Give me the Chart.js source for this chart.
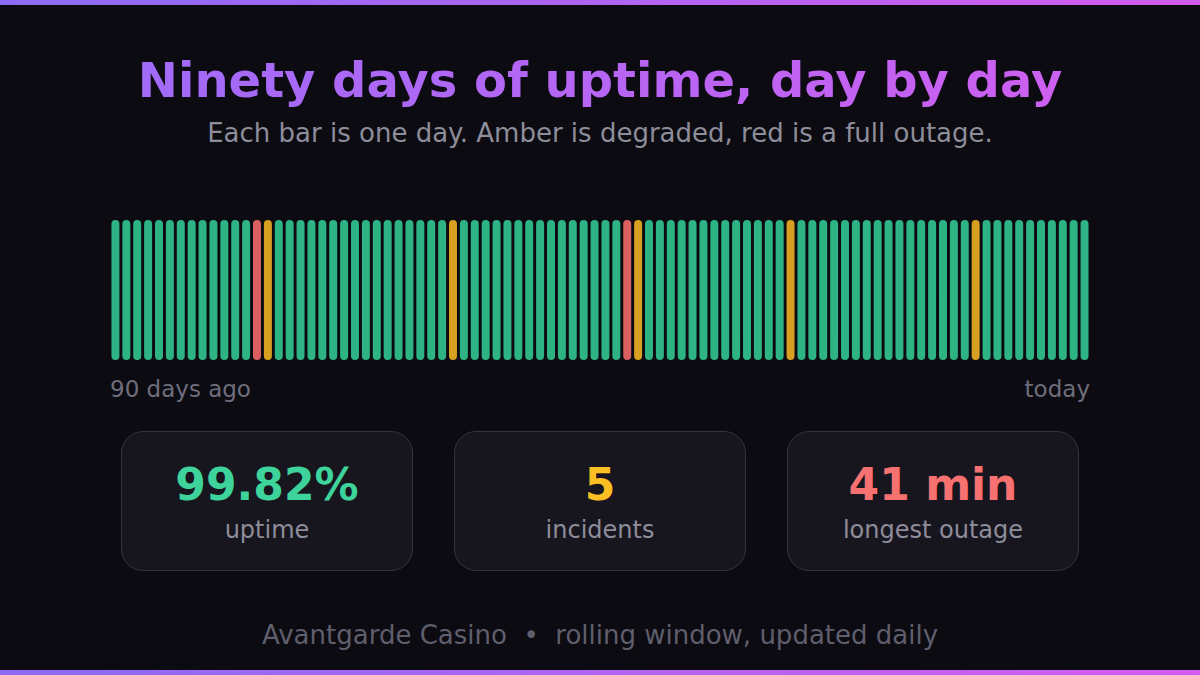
<!DOCTYPE html>
<html><head><meta charset="utf-8">
<script src="https://cdn.jsdelivr.net/npm/chart.js@4/dist/chart.umd.min.js"></script>
<style>
html,body{margin:0;padding:0;background:#0c0b12;}
body{width:1200px;height:675px;position:relative;overflow:hidden;font-family:"DejaVu Sans",sans-serif;}
.bar{position:absolute;left:0;width:1200px;height:5px;background:linear-gradient(90deg,#8b6cf6,#d45cf0);}
h1{position:absolute;top:52px;left:0;width:1200px;margin:0;text-align:center;font-size:48px;font-weight:bold;
 background:linear-gradient(90deg,#9a6cf8,#d35ef0);-webkit-background-clip:text;background-clip:text;color:transparent;}
.sub{position:absolute;top:118px;width:1200px;text-align:center;font-size:26px;color:#8e8d9a;}
#wrap{position:absolute;left:105px;top:215px;width:990px;height:150px;}
.lab{position:absolute;top:376px;font-size:23px;color:#6f6e7c;}
.card{position:absolute;top:431px;width:290px;height:138px;border:1px solid #34333f;border-radius:22px;background:#17161f;text-align:center;}
.card .v{font-size:44px;font-weight:bold;margin-top:28px;line-height:50px;}
.card .t{font-size:24px;color:#8e8d9a;margin-top:6px;}
.foot{position:absolute;top:620px;width:1200px;text-align:center;font-size:26px;color:#5f5e6c;}
</style></head><body>
<div class="bar" style="top:0"></div><div class="bar" style="bottom:0;top:auto"></div>
<h1>Ninety days of uptime, day by day</h1>
<div class="sub">Each bar is one day. Amber is degraded, red is a full outage.</div>
<div id="wrap"><canvas id="c"></canvas></div>
<div class="lab" style="left:110px">90 days ago</div>
<div class="lab" style="right:110px">today</div>
<div class="card" style="left:121px"><div class="v" style="color:#3dd39b">99.82%</div><div class="t">uptime</div></div>
<div class="card" style="left:454px"><div class="v" style="color:#fbbf24">5</div><div class="t">incidents</div></div>
<div class="card" style="left:787px"><div class="v" style="color:#f87171">41 min</div><div class="t">longest outage</div></div>
<div class="foot">Avantgarde Casino &nbsp;•&nbsp; rolling window, updated daily</div>
<script>
const outageDays = [13, 47];
const degradedDays = [14, 31, 48, 62, 79];
const dayCount = 90;
const days = [];
for (let i = 0; i < dayCount; i++) days.push(i);
const status = days.map(d => outageDays.includes(d) ? 'outage' : degradedDays.includes(d) ? 'degraded' : 'up');
const values = days.map(() => 1);
const colorFor = {up:'#2db384', degraded:'#d8a020', outage:'#d95f61'};
new Chart(document.getElementById('c'), {
  type:'bar',
  data:{labels:days, datasets:[{data:values, backgroundColor:status.map(s=>colorFor[s]), borderRadius:4, borderSkipped:false, barPercentage:0.95, categoryPercentage:0.77}]},
  options:{responsive:true, maintainAspectRatio:false, animation:false,
    layout:{padding:{left:5,right:5,top:5,bottom:5}},
    plugins:{legend:{display:false}, tooltip:{enabled:false}},
    scales:{x:{display:false}, y:{display:false, min:0, max:1}}}
});
</script>
</body></html>
